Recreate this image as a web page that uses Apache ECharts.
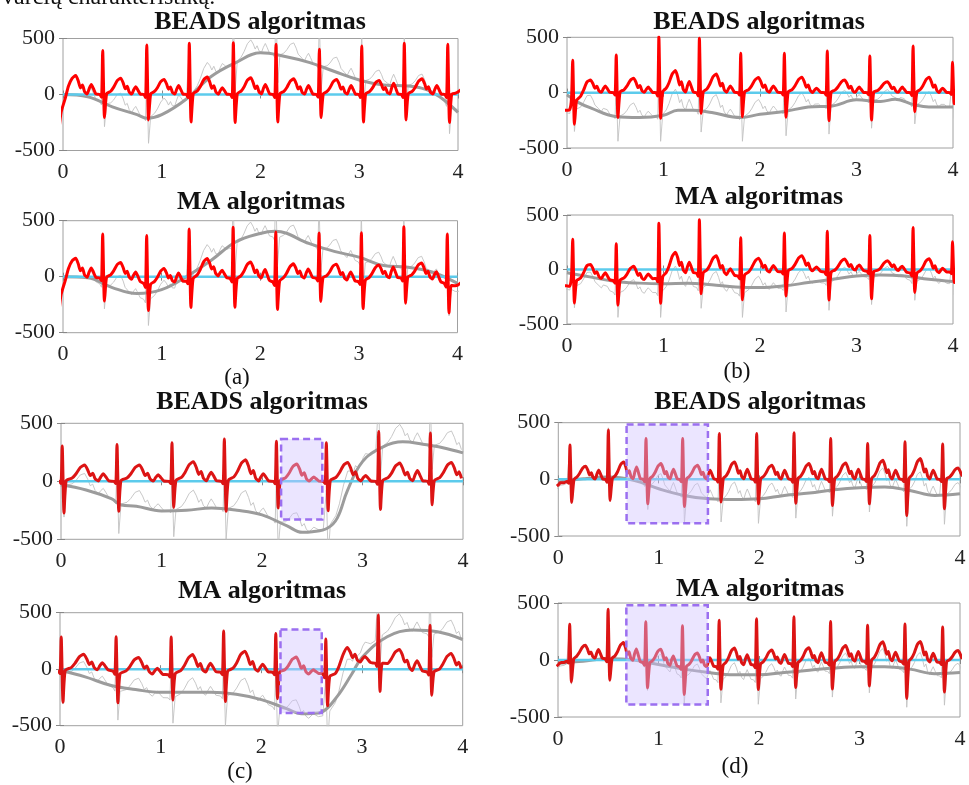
<!DOCTYPE html>
<html><head><meta charset="utf-8">
<script src="https://cdn.jsdelivr.net/npm/echarts@6/dist/echarts.min.js"></script>
<style>html,body{margin:0;padding:0;background:#fff}#c{width:969px;height:785px}</style>
</head><body><div id="c"></div>
<script>
// ---------- text / ticks ----------
const xTicks = [0, 1, 2, 3, 4];
const yTicks = [-500, 0, 500];
const titles = ['BEADS algoritmas', 'MA algoritmas'];
const subLabels = ['(a)', '(b)', '(c)', '(d)'];
const headerText = 'varčių charakteristiką.';

// ---------- (a) ----------
const beatsA = [-0.06, 0.402, 0.848, 1.279, 1.725, 2.157, 2.596, 3.025, 3.456, 3.896];
const rA = [400, 392, 442, 457, 463, 449, 405, 434, 457, 449];
const sA = [-150, -206, -227, -245, -250, -245, -206, -245, -227, -250];
const tA = [170, 146, 135, 157, 150, 140, 135, 125, 140, 60];
const pA = [0, 89, 70, 80, 60, 90, 80, 80, 100, 80];
const baseA_BEADS = [[0,0],[0.25,-20],[0.5,-110],[0.75,-180],[0.85,-212],[1.0,-180],[1.25,-40],[1.5,160],[1.75,285],[2.0,372],[2.25,340],[2.5,285],[2.75,205],[3.0,130],[3.25,85],[3.5,75],[3.75,15],[4.0,-160]];
const baseA_MA = [[0,0],[0.25,-10],[0.5,-97],[0.75,-150],[1.0,-115],[1.25,0],[1.5,145],[1.75,310],[2.0,386],[2.15,405],[2.5,295],[2.75,226],[3.0,175],[3.25,100],[3.5,84],[3.75,40],[4.0,-60]];
const resA = [[0,-170],[0.02,-80],[0.04,0],[4,0]];

// ---------- (b) ----------
const beatsB = [0.059, 0.51, 0.952, 1.372, 1.8, 2.252, 2.697, 3.138, 3.586, 3.995];
const rB = [310, 340, 505, 491, 355, 355, 376, 331, 421, 275];
const sB = [-283, -223, -232, -187, -217, -223, -253, -247, -172, -100];
const tB = [114, 130, 199, 169, 136, 139, 114, 99, 139, 0];
const pB = [0, 60, 50, 100, 60, 60, 40, 50, 50, 40];
const baseB_BEADS = [[0,-20],[0.12,-90],[0.25,-140],[0.5,-215],[0.75,-225],[1.0,-205],[1.15,-160],[1.3,-160],[1.5,-180],[1.8,-225],[2.0,-195],[2.25,-170],[2.5,-130],[2.75,-120],[3.0,-65],[3.25,-80],[3.4,-60],[3.6,-110],[3.75,-130],[4.0,-130]];
const baseB_MA = [[0,-30],[0.25,-70],[0.5,-110],[0.75,-125],[1.0,-130],[1.25,-125],[1.5,-140],[1.75,-160],[2.0,-165],[2.25,-150],[2.5,-120],[2.75,-90],[3.0,-60],[3.25,-50],[3.5,-60],[3.75,-90],[4.0,-110]];
const resB = [[0,-160],[0.035,-150],[0.045,-30],[0.08,0],[0.1,-80],[0.15,-50],[0.2,0],[4,0]];

// ---------- (c) ----------
const beatsC = [0.012, 0.557, 1.104, 1.625, 2.143, 2.64, 3.161, 3.675];
const rC = [304, 318, 332, 365, 346, 332, 430, 416];
const sC = [-273, -259, -225, -259, -230, -253, -244, -202];
const tC = [140, 140, 169, 185, 149, 163, 157, 163];
const pC = [0, 65, 56, 79, 65, 36, 50, 93];
const baseC_BEADS = [[0,-30],[0.25,-75],[0.5,-150],[0.6,-205],[0.75,-215],[1.0,-255],[1.25,-250],[1.5,-230],[1.75,-250],[2.0,-290],[2.25,-385],[2.4,-440],[2.5,-435],[2.65,-405],[2.75,-315],[2.85,-80],[3.0,170],[3.2,295],[3.4,340],[3.6,320],[3.8,290],[4.0,245]];
const baseC_MA = [[0,-10],[0.25,-68],[0.5,-142],[0.75,-180],[1.0,-205],[1.25,-205],[1.5,-205],[1.75,-222],[2.0,-269],[2.25,-349],[2.4,-395],[2.5,-392],[2.6,-379],[2.75,-245],[2.9,-40],[3.0,104],[3.25,287],[3.5,346],[3.75,331],[4.0,263]];
const resC = [[0,0],[4,0]];
const boxC1 = [2.19, -330, 2.6, 365];
const boxC2 = [2.19, -388, 2.6, 352];

// ---------- (d) ----------
const beatsD = [0.116, 0.498, 0.873, 1.238, 1.603, 1.975, 2.347, 2.712, 3.08, 3.452, 3.827];
const rD = [317, 435, 361, 361, 405, 405, 411, 361, 317, 331, 311];
const sD = [-192, -186, -216, -240, -201, -216, -210, -231, -216, -320, -260];
const tD = [115, 154, 139, 124, 154, 124, 139, 145, 169, 183, 100];
const pD = [20, 80, 110, 90, 80, 90, 80, 90, 90, 80, 80];
const baseD_BEADS = [[0,-25],[0.25,5],[0.5,20],[0.75,-9],[1.0,-83],[1.25,-142],[1.5,-172],[1.75,-178],[2.0,-172],[2.25,-142],[2.5,-121],[2.75,-92],[3.0,-74],[3.25,-68],[3.5,-98],[3.75,-142],[4.0,-127]];
const baseD_MA = [[0,-30],[0.25,-10],[0.5,10],[0.75,0],[1.0,-40],[1.25,-80],[1.5,-110],[1.75,-130],[2.0,-130],[2.25,-110],[2.5,-90],[2.75,-70],[3.0,-60],[3.25,-60],[3.5,-80],[3.75,-120],[4.0,-110]];
const resD = [[0,-60],[0.08,-20],[0.2,0],[4,0]];
const boxD1 = [0.68, -388, 1.49, 485];
const boxD2 = [0.68, -390, 1.49, 480];

// ---------- beat shape (fractions of the wave amplitudes) ----------
const pShape = [[-0.15,0.05],[-0.13,0.6],[-0.11,1],[-0.09,0.6],[-0.065,0.05]];
const tShape = [[0.08,0.2],[0.11,0.45],[0.145,0.85],[0.18,1],[0.205,0.7],[0.225,0.35],[0.245,0.5],[0.265,0.15]];

function lerp(arr, t) {
  if (t <= arr[0][0]) return arr[0][1];
  for (let i = 1; i < arr.length; i++) {
    if (t <= arr[i][0]) {
      const [t0, v0] = arr[i - 1], [t1, v1] = arr[i];
      return v0 + (v1 - v0) * (t - t0) / (t1 - t0);
    }
  }
  return arr[arr.length - 1][1];
}
function buildEcg(beats, R, S, T, P) {
  const pts = [];
  const n = beats.length;
  for (let i = 0; i < n; i++) {
    const b = beats[i];
    const rrN = i < n - 1 ? beats[i + 1] - b : b - beats[i - 1];
    const rrP = i > 0 ? b - beats[i - 1] : beats[i + 1] - b;
    const kN = rrN / 0.44, kP = rrP / 0.44;
    pShape.forEach(([dt, w]) => pts.push([b + dt * kP, w * P[i]]));
    pts.push([b - 0.03, 0]);
    pts.push([b - 0.012, -0.06 * R[i]]);
    pts.push([b, R[i]]);
    pts.push([b + 0.018, S[i]]);
    pts.push([b + 0.04, 0.05 * T[i]]);
    tShape.forEach(([dt, w]) => pts.push([b + dt * kN, w * T[i]]));
  }
  pts.sort((a, b) => a[0] - b[0]);
  return pts;
}

const letters = [
  {beats: beatsA, R: rA, S: sA, T: tA, P: pA, bB: baseA_BEADS, bM: baseA_MA, res: resA, red: '#ff0000', boxes: [null, null]},
  {beats: beatsB, R: rB, S: sB, T: tB, P: pB, bB: baseB_BEADS, bM: baseB_MA, res: resB, red: '#ff0000', boxes: [null, null]},
  {beats: beatsC, R: rC, S: sC, T: tC, P: pC, bB: baseC_BEADS, bM: baseC_MA, res: resC, red: '#dc1414', boxes: [boxC1, boxC2]},
  {beats: beatsD, R: rD, S: sD, T: tD, P: pD, bB: baseD_BEADS, bM: baseD_MA, res: resD, red: '#dc1414', boxes: [boxD1, boxD2]}
];

// ---------- layout ----------
const grids = [
  {left: 63, top: 38.5, width: 395, height: 112},
  {left: 63, top: 220.7, width: 394.5, height: 112},
  {left: 567, top: 37.3, width: 386, height: 110.7},
  {left: 567, top: 215, width: 386, height: 109},
  {left: 61, top: 423.3, width: 402, height: 116},
  {left: 60, top: 612.7, width: 402.7, height: 113},
  {left: 558.3, top: 422.7, width: 401.7, height: 113.3},
  {left: 558, top: 603, width: 402, height: 114}
];
const titlePos = [[260,22],[261,202],[759,22],[759,197],[262,402],[262,591],[760,402],[760,589]];
const subPos = [[237,378],[737,372],[240,772],[735,767]];

const FONT = 'Liberation Serif';
const option = {animation: false, backgroundColor: '#fff', grid: [], xAxis: [], yAxis: [], series: [], graphic: []};

grids.forEach((g, gi) => {
  option.grid.push(Object.assign({show: true, borderColor: '#a0a0a0', borderWidth: 1, containLabel: false}, g));
  const tick = {show: true, inside: true, length: 4, lineStyle: {color: '#888'}};
  option.xAxis.push({type: 'value', gridIndex: gi, min: xTicks[0], max: xTicks[xTicks.length-1], interval: 1, position: 'bottom',
    axisLine: {show: false}, axisTick: tick, splitLine: {show: false},
    axisLabel: {fontFamily: FONT, fontSize: 22, color: '#222', margin: 11}});
  option.xAxis.push({type: 'value', gridIndex: gi, min: xTicks[0], max: xTicks[xTicks.length-1], interval: 1, position: 'top',
    axisLine: {show: false}, axisTick: tick, splitLine: {show: false}, axisLabel: {show: false}});
  option.yAxis.push({type: 'value', gridIndex: gi, min: yTicks[0], max: yTicks[yTicks.length-1], interval: 500, position: 'left',
    axisLine: {show: false}, axisTick: tick, splitLine: {show: false},
    axisLabel: {fontFamily: FONT, fontSize: 22, color: '#222', margin: 8}});
  option.yAxis.push({type: 'value', gridIndex: gi, min: yTicks[0], max: yTicks[yTicks.length-1], interval: 500, position: 'right',
    axisLine: {show: false}, axisTick: tick, splitLine: {show: false}, axisLabel: {show: false}});
});

letters.forEach((L, li) => {
  const ecg = buildEcg(L.beats, L.R, L.S, L.T, L.P);
  const wander = t => lerp(L.bB, t) + lerp(L.res, t);
  const raw = ecg.map(([t, v]) => [t, v + wander(t)]);
  const redB = ecg.map(([t, v]) => [t, v + lerp(L.res, t)]);
  const redM = ecg.map(([t, v]) => [t, v + wander(t) - lerp(L.bM, t)]);
  [[L.bB, redB], [L.bM, redM]].forEach(([base, red], k) => {
    const gi = li * 2 + k;
    const ax = {xAxisIndex: gi * 2, yAxisIndex: gi * 2};
    option.series.push(Object.assign({type: 'line', data: raw, showSymbol: false, silent: true, z: 1,
      lineStyle: {color: '#c2c2c2', width: 0.9}}, ax));
    option.series.push(Object.assign({type: 'line', data: base, showSymbol: false, silent: true, smooth: 0.4, z: 2,
      lineStyle: {color: '#9c9c9c', width: 3}}, ax));
    option.series.push(Object.assign({type: 'line', data: [[xTicks[0], 0], [xTicks[xTicks.length-1], 0]], showSymbol: false, silent: true, z: 3,
      lineStyle: {color: '#5ccbec', width: 2.5}}, ax));
    option.series.push(Object.assign({type: 'line', data: red, showSymbol: false, silent: true, z: 4, smooth: 0.2,
      lineStyle: {color: L.red, width: 3, join: 'round'}}, ax));
    const box = L.boxes[k];
    if (box) {
      option.series.push(Object.assign({type: 'custom', z: 10, silent: true, data: [box],
        encode: {x: [0, 2], y: [1, 3]},
        renderItem: (params, api) => {
          const p0 = api.coord([api.value(0), api.value(3)]);
          const p1 = api.coord([api.value(2), api.value(1)]);
          return {type: 'rect', shape: {x: p0[0], y: p0[1], width: p1[0] - p0[0], height: p1[1] - p0[1]},
            style: {fill: 'rgba(208,194,255,0.42)', stroke: '#9b6ff0', lineWidth: 2.5, lineDash: [7, 4]}};
        }}, ax));
    }
  });
});

titlePos.forEach((p, i) => {
  option.graphic.push({type: 'text', x: p[0], y: p[1], z: 20,
    style: {text: titles[i % 2], font: 'bold 26px "' + FONT + '"', fill: '#111', textAlign: 'center', textVerticalAlign: 'middle'}});
});
subPos.forEach((p, i) => {
  option.graphic.push({type: 'text', x: p[0], y: p[1], z: 20,
    style: {text: subLabels[i], font: '23px "' + FONT + '"', fill: '#111', textAlign: 'center', textVerticalAlign: 'middle'}});
});
option.graphic.push({type: 'text', x: 2, y: 10, z: 20,
  style: {text: headerText, font: '24px "' + FONT + '"', fill: '#111', textAlign: 'left', textVerticalAlign: 'bottom'}});

const chart = echarts.init(document.getElementById('c'), null, {renderer: 'canvas'});
chart.setOption(option);
</script></body></html>
